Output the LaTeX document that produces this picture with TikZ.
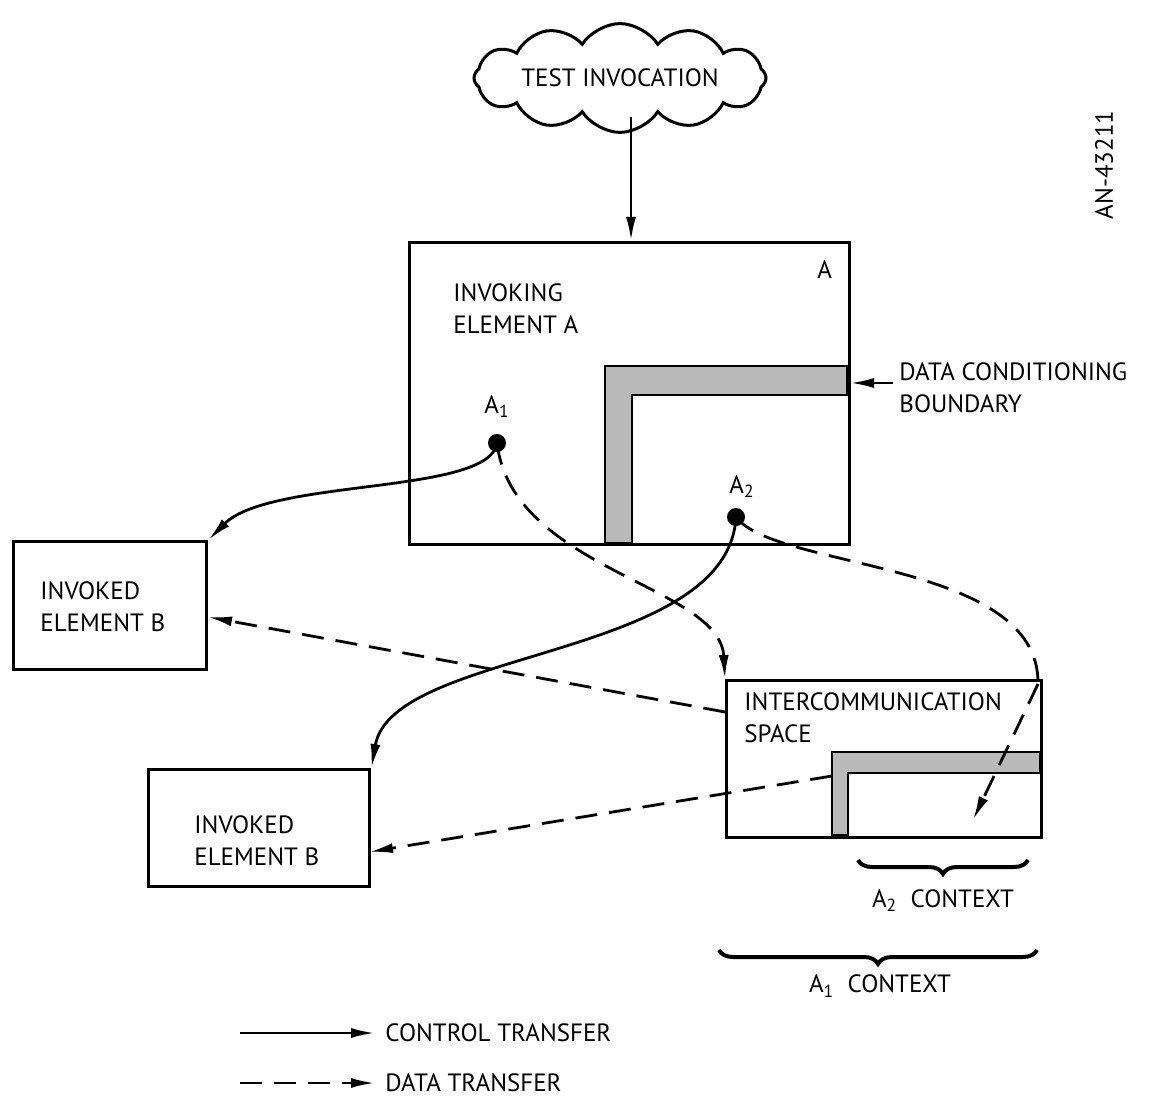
\documentclass[tikz,border=0pt]{standalone}
\usepackage{fontspec}
\setmainfont{PT Sans}
\usetikzlibrary{shapes.symbols,arrows.meta,decorations.pathreplacing,calc}
\begin{document}
\begin{tikzpicture}[x=0.5pt,y=-0.5pt,
  lbl/.style={font=\fontsize{12.5}{16}\selectfont, inner sep=0pt, align=left},
  boxn/.style={draw, line width=1.7pt, inner sep=0pt, anchor=north west},
  band/.style={draw, line width=1.4pt, fill=gray!55},
  ctrl/.style={line width=1.4pt, -{Latex[length=12pt,width=5pt]}},
  datal/.style={line width=1.4pt, dash pattern=on 11pt off 6pt, -{Latex[length=12pt,width=5pt]}},
  dotn/.style={circle, fill=black, inner sep=0pt, minimum size=9pt},
  brc/.style={decorate, decoration={brace, mirror, amplitude=7pt}, line width=2pt}
]
\useasboundingbox (0,0) rectangle (1157,1112);
\fill[white] (0,0) rectangle (1157,1112);

% cloud
\node[cloud, draw, line width=1.5pt, cloud puffs=12, cloud puff arc=115, aspect=3.9,
  minimum width=146pt, inner sep=0pt,
  font=\fontsize{12.5}{16}\selectfont] (TI) at (620,78) {TEST INVOCATION};

% boxes
\node[boxn, minimum width=220pt, minimum height=151pt] (A) at (408,241) {};
\node[boxn, minimum width=96.5pt, minimum height=64pt] (B1) at (12,540) {};
\node[boxn, minimum width=110.5pt, minimum height=58.5pt] (B2) at (147,768) {};
\node[boxn, minimum width=157.5pt, minimum height=78.5pt] (ICS) at (725,679) {};

% shaded bands
\draw[band] (605,366) -- (847,366) -- (847,395) -- (632,395) -- (632,543) -- (605,543) -- cycle;
\draw[band] (832,752) -- (1040,752) -- (1040,773) -- (848,773) -- (848,835) -- (832,835) -- cycle;

% labels
\node[lbl, anchor=west] (Alab) at (817,270) {A};
\node[lbl, anchor=north west] (Atext) at (453,283) {INVOKING\\ELEMENT A};
\node[lbl, anchor=north west] (B1text) at (40,581) {INVOKED\\ELEMENT B};
\node[lbl, anchor=north west] (B2text) at (194,815) {INVOKED\\ELEMENT B};
\node[lbl, anchor=north west] (ICStext) at (744,692) {INTERCOMMUNICATION\\SPACE};
\node[lbl, anchor=north west] (DCB) at (899,362) {DATA CONDITIONING\\BOUNDARY};
\node[lbl, rotate=90] (AN) at (1104,165) {AN-43211};

% dots
\node[dotn] (A1) at (497,443) {};
\node[lbl] (A1lab) at (497,407) {A\textsubscript{1}};
\node[dotn] (A2) at (736,517) {};
\node[lbl] (A2lab) at (742,487) {A\textsubscript{2}};

% coordinates
\coordinate (dcbtip) at (850,383);
\coordinate (dcbstart) at (893,383);
\coordinate (ics1) at (725,712);
\coordinate (b1in) at (208,617);
\coordinate (icsL) at (832,776);
\coordinate (b2in) at (369,852);
\coordinate (a2tip) at (973,820);
\coordinate (a2mid) at (1038,684);
\coordinate (tis) at (631,117);

% connectors
\draw[ctrl] (tis) -- (tis |- A.north);
\draw[ctrl] (dcbstart) -- (dcbtip);
\draw[ctrl] (A1.center) .. controls (490,495) and (270,478) .. (B1.north east);
\draw[datal] (A1.center) .. controls (512,570) and (720,585) .. (ICS.north west);
\draw[ctrl] (A2.center) .. controls (728,660) and (392,648) .. (B2.north east);
\draw[line width=1.4pt, dash pattern=on 11pt off 6pt] (A2.center) .. controls (775,570) and (1040,560) .. (a2mid);
\draw[datal] (a2mid) -- (a2tip);
\draw[datal] (ics1) -- (b1in);
\draw[datal] (icsL) -- (b2in);

% braces
\coordinate (br2a) at (858,860);
\coordinate (br2b) at (1028,860);
\draw[brc] (br2a) -- (br2b) node[midway, below=14pt, lbl] (A2ctx) {A\textsubscript{2}\ \ CONTEXT};
\coordinate (br1a) at (719,950);
\coordinate (br1b) at (1037,950);
\draw[brc] (br1a) -- (br1b);
\node[lbl] (A1ctx) at (880,986) {A\textsubscript{1}\ \ CONTEXT};

% legend
\coordinate (l1a) at (240,1033);
\coordinate (l1b) at (375,1033);
\coordinate (l2a) at (240,1083);
\coordinate (l2b) at (375,1083);
\draw[ctrl] (l1a) -- (l1b);
\draw[datal] (l2a) -- (l2b);
\node[lbl, anchor=west] (L1) at (385,1033) {CONTROL TRANSFER};
\node[lbl, anchor=west] (L2) at (385,1083) {DATA TRANSFER};
\end{tikzpicture}
\end{document}
